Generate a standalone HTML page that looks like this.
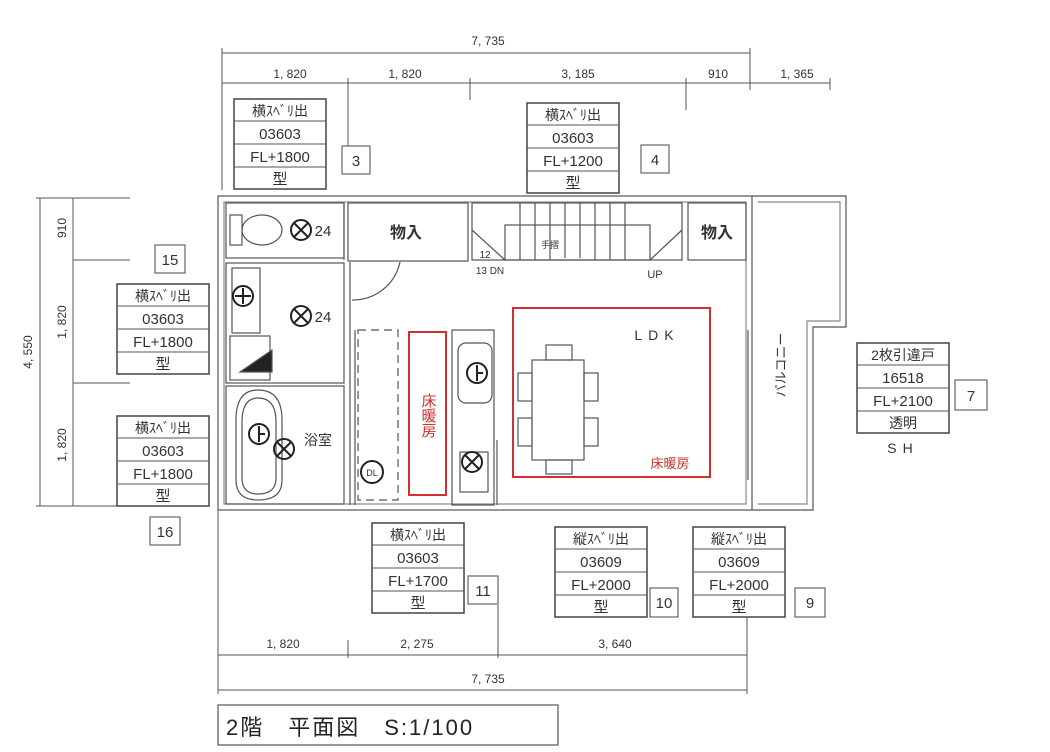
<!DOCTYPE html>
<html><head><meta charset="utf-8"><style>
html,body{margin:0;padding:0;background:#fff;}
svg{display:block;}
text{font-family:"Liberation Sans","Noto Sans CJK JP",sans-serif;fill:#333;}
</style></head><body>
<svg width="1050" height="752" viewBox="0 0 1050 752" xmlns="http://www.w3.org/2000/svg">
<defs>
<g id="bx">
<rect x="0" y="0" width="92" height="90" fill="#fff" stroke="#444" stroke-width="1.5"/>
<line x1="0" y1="22" x2="92" y2="22" stroke="#555"/>
<line x1="0" y1="45" x2="92" y2="45" stroke="#555"/>
<line x1="0" y1="68" x2="92" y2="68" stroke="#555"/>
</g>
</defs>
<g stroke="#555" stroke-width="1" fill="none">
<line x1="222" y1="53" x2="750" y2="53"/>
<line x1="222" y1="83" x2="830" y2="83"/>
<line x1="222" y1="48" x2="222" y2="190"/>
<line x1="750" y1="48" x2="750" y2="90"/>
<line x1="348" y1="78" x2="348" y2="150"/>
<line x1="470" y1="78" x2="470" y2="100"/>
<line x1="686" y1="78" x2="686" y2="110"/>
<line x1="830" y1="78" x2="830" y2="90"/>
<line x1="40" y1="198" x2="40" y2="506"/>
<line x1="73" y1="198" x2="73" y2="506"/>
<line x1="36" y1="198" x2="130" y2="198"/>
<line x1="73" y1="260" x2="130" y2="260"/>
<line x1="73" y1="383" x2="130" y2="383"/>
<line x1="36" y1="506" x2="130" y2="506"/>
<line x1="218" y1="655" x2="747" y2="655"/>
<line x1="218" y1="690" x2="747" y2="690"/>
<line x1="218" y1="510" x2="218" y2="694"/>
<line x1="498" y1="605" x2="498" y2="658"/>
<line x1="747" y1="618" x2="747" y2="694"/>
<line x1="348" y1="640" x2="348" y2="658"/>
</g>
<g font-size="12" text-anchor="middle">
<text x="488" y="45">7, 735</text>
<text x="290" y="78">1, 820</text>
<text x="405" y="78">1, 820</text>
<text x="578" y="78">3, 185</text>
<text x="718" y="78">910</text>
<text x="797" y="78">1, 365</text>
<text x="283" y="648">1, 820</text>
<text x="417" y="648">2, 275</text>
<text x="615" y="648">3, 640</text>
<text x="488" y="683">7, 735</text>
<text transform="translate(66,228) rotate(-90)">910</text>
<text transform="translate(66,322) rotate(-90)">1, 820</text>
<text transform="translate(66,445) rotate(-90)">1, 820</text>
<text transform="translate(32,352) rotate(-90)">4, 550</text>
</g>
<g stroke="#555" fill="none" stroke-width="1.2">
<rect x="218" y="196" width="534" height="314"/>
<rect x="224" y="202" width="522" height="302" stroke="#888"/>
<path d="M752 196 H846 V327 H813 V510 H752"/>
<path d="M758 202 H840 V321 H807 V504 H758" stroke="#888"/>
<rect x="226" y="203" width="118" height="55"/>
<path d="M344 203 V260"/>
<rect x="230" y="215" width="12" height="30"/><ellipse cx="262" cy="230" rx="20" ry="15"/>
<rect x="348" y="203" width="120" height="58"/>
<rect x="472" y="203" width="210" height="57"/>
<rect x="505" y="225" width="145" height="35"/>
<path d="M520 203V260M535 203V260M550 203V260M565 203V258M580 203V258M595 203V260M610 203V260M625 203V260"/>
<path d="M472 230 L505 260 M682 230 L650 260"/>
<rect x="688" y="203" width="58" height="57"/>
<rect x="226" y="263" width="118" height="120"/>
<rect x="232" y="268" width="28" height="65"/>
<rect x="230" y="336" width="40" height="44"/>
<path d="M240 372 L272 350 L272 372 Z" fill="#222"/>
<path d="M350 262 V505 M355 330 V505"/>
<path d="M352 300 A48 48 0 0 0 400 262"/>
<rect x="226" y="386" width="118" height="118"/>
<path d="M236 420 Q236 390 258 390 Q282 390 282 420 V480 Q282 500 258 500 Q236 500 236 480 Z"/>
<path d="M242 422 Q242 398 258 398 Q276 398 276 422 V478 Q276 494 258 494 Q242 494 242 478 Z"/>
<rect x="358" y="330" width="40" height="170" stroke-dasharray="8 5"/>
<rect x="452" y="330" width="42" height="175"/>
<rect x="458" y="343" width="34" height="60" rx="8"/>
<rect x="460" y="452" width="28" height="40"/>
<path d="M497 440 V505"/>
<rect x="532" y="360" width="52" height="100"/>
<rect x="546" y="345" width="26" height="15"/><rect x="546" y="460" width="26" height="14"/>
<rect x="518" y="373" width="14" height="28"/><rect x="518" y="418" width="14" height="28"/>
<rect x="584" y="373" width="14" height="28"/><rect x="584" y="418" width="14" height="28"/>
<path d="M748 330 V480"/>
</g>
<g stroke="#222" stroke-width="2" fill="none">
<circle cx="301" cy="230" r="10"/><path d="M294 223 L308 237 M308 223 L294 237"/>
<circle cx="301" cy="316" r="10"/><path d="M294 309 L308 323 M308 309 L294 323"/>
<circle cx="243" cy="296" r="10"/><path d="M243 288V304M235 296H251"/>
<circle cx="259" cy="434" r="10"/><path d="M259 426V442M259 434H265"/>
<circle cx="284" cy="449" r="10"/><path d="M277 442 L291 456 M291 442 L277 456"/>
<circle cx="477" cy="373" r="10"/><path d="M477 365V381M477 373H483"/>
<circle cx="472" cy="462" r="10"/><path d="M465 455 L479 469 M479 455 L465 469"/>
<circle cx="372" cy="472" r="11"/>
</g>
<g font-size="16" text-anchor="middle" fill="#222">
<text x="323" y="236" font-size="15">24</text>
<text x="323" y="322" font-size="15">24</text>
<text x="406" y="238" font-weight="bold">物入</text>
<text x="717" y="238" font-weight="bold">物入</text>
<text x="318" y="445" font-size="14">浴室</text>
<text x="550" y="248" font-size="9">手摺</text>
<text x="485" y="258" font-size="10">12</text>
<text x="490" y="274" font-size="10">13 DN</text>
<text x="655" y="278" font-size="11">UP</text>
<text x="372" y="476" font-size="9">DL</text>
<text x="657" y="340" font-size="14" letter-spacing="6">LDK</text>
<text transform="translate(782,365) rotate(-90)" font-size="13" dominant-baseline="middle">バルコニー</text>
</g>
<g stroke="#d03030" stroke-width="2" fill="none">
<rect x="409" y="332" width="37" height="163"/>
<rect x="513" y="308" width="197" height="169"/>
</g>
<text x="428" y="393" font-size="15" style="fill:#d03030;writing-mode:tb;glyph-orientation-vertical:0" >床暖房</text>
<text x="670" y="468" font-size="13" style="fill:#d03030" text-anchor="middle">床暖房</text>
<g font-size="15" text-anchor="middle">
<g transform="translate(234,99)"><use href="#bx"/><text x="46" y="17" font-size="14">横ｽﾍﾞﾘ出</text><text x="46" y="40">03603</text><text x="46" y="63">FL+1800</text><text x="46" y="85">型</text></g>
<g transform="translate(527,103)"><use href="#bx"/><text x="46" y="17" font-size="14">横ｽﾍﾞﾘ出</text><text x="46" y="40">03603</text><text x="46" y="63">FL+1200</text><text x="46" y="85">型</text></g>
<g transform="translate(117,284)"><use href="#bx"/><text x="46" y="17" font-size="14">横ｽﾍﾞﾘ出</text><text x="46" y="40">03603</text><text x="46" y="63">FL+1800</text><text x="46" y="85">型</text></g>
<g transform="translate(117,416)"><use href="#bx"/><text x="46" y="17" font-size="14">横ｽﾍﾞﾘ出</text><text x="46" y="40">03603</text><text x="46" y="63">FL+1800</text><text x="46" y="85">型</text></g>
<g transform="translate(857,343)"><use href="#bx"/><text x="46" y="17" font-size="14">2枚引違戸</text><text x="46" y="40">16518</text><text x="46" y="63">FL+2100</text><text x="46" y="85" font-size="14">透明</text></g>
<text x="903" y="453" font-size="14" letter-spacing="6">SH</text>
<g transform="translate(372,523)"><use href="#bx"/><text x="46" y="17" font-size="14">横ｽﾍﾞﾘ出</text><text x="46" y="40">03603</text><text x="46" y="63">FL+1700</text><text x="46" y="85">型</text></g>
<g transform="translate(555,527)"><use href="#bx"/><text x="46" y="17" font-size="14">縦ｽﾍﾞﾘ出</text><text x="46" y="40">03609</text><text x="46" y="63">FL+2000</text><text x="46" y="85">型</text></g>
<g transform="translate(693,527)"><use href="#bx"/><text x="46" y="17" font-size="14">縦ｽﾍﾞﾘ出</text><text x="46" y="40">03609</text><text x="46" y="63">FL+2000</text><text x="46" y="85">型</text></g>
</g>
<g stroke="#666" fill="#fff" stroke-width="1.2">
<rect x="342" y="146" width="28" height="28"/>
<rect x="641" y="145" width="28" height="28"/>
<rect x="155" y="245" width="30" height="28"/>
<rect x="150" y="517" width="30" height="28"/>
<rect x="955" y="380" width="32" height="30"/>
<rect x="468" y="576" width="30" height="28"/>
<rect x="650" y="588" width="28" height="29"/>
<rect x="795" y="588" width="30" height="29"/>
</g>
<g font-size="15" text-anchor="middle">
<text x="356" y="166">3</text><text x="655" y="165">4</text><text x="170" y="265">15</text>
<text x="165" y="537">16</text><text x="971" y="401">7</text><text x="483" y="596">11</text>
<text x="664" y="608">10</text><text x="810" y="608">9</text>
</g>
<rect x="218" y="705" width="340" height="40" fill="none" stroke="#555" stroke-width="1.2"/>
<text x="226" y="735" font-size="22" letter-spacing="2" style="fill:#222">2階　平面図　S:1/100</text>
</svg>
</body></html>
